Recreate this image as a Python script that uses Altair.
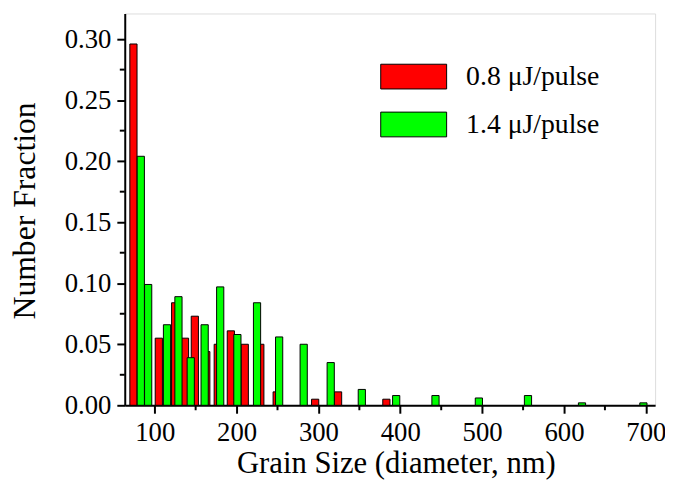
import altair as alt
import pandas as pd

# ---- data ----
series_names = ["0.8 μJ/pulse", "1.4 μJ/pulse"]
bar_colors = ["#ff0000", "#00ff00"]

red_size = [74, 105, 125, 137, 149, 163, 177, 193, 210, 229, 249, 296, 324, 383]
red_frac = [0.296, 0.055, 0.084, 0.055, 0.073, 0.044, 0.050, 0.061, 0.050, 0.050,
            0.011, 0.005, 0.011, 0.005]

green_size = [83, 92, 115, 129, 144, 161, 180, 201, 225, 252, 282, 315, 353, 395,
              443, 496, 556, 622, 697]
green_frac = [0.204, 0.099, 0.066, 0.089, 0.039, 0.066, 0.097, 0.058, 0.084, 0.056,
              0.050, 0.035, 0.013, 0.008, 0.008, 0.006, 0.008, 0.002, 0.002]

x_ticks = [100, 200, 300, 400, 500, 600, 700]
x_minor = [150, 250, 350, 450, 550, 650]
y_ticks = [0.0, 0.05, 0.10, 0.15, 0.20, 0.25, 0.30]
y_minor = [0.025, 0.075, 0.125, 0.175, 0.225, 0.275]

x_title = "Grain Size (diameter, nm)"
y_title = "Number Fraction"

# ---- layout ----
W, H = 536, 396
FONT = "Liberation Serif"
bar_half = 4.4

df = pd.concat([
    pd.DataFrame({"series": series_names[0], "size": red_size, "frac": red_frac}),
    pd.DataFrame({"series": series_names[1], "size": green_size, "frac": green_frac}),
], ignore_index=True)

xs = alt.Scale(domain=[63.4, 711.3], nice=False, zero=False)
ys = alt.Scale(domain=[0, 0.321], nice=False, zero=True)

axis_common = dict(
    domainColor="black", domainWidth=2, tickColor="black", tickWidth=2, tickSize=8,
    labelFont=FONT, labelFontSize=27, labelColor="black", grid=False,
    titleFont=FONT, titleFontWeight="normal", titleColor="black",
)

bars = alt.Chart(df).transform_calculate(
    x0=f"datum.size - {bar_half}", x1=f"datum.size + {bar_half}", zero="0"
).mark_rect(stroke="black", strokeWidth=1).encode(
    x=alt.X("x0:Q", scale=xs, title=x_title,
            axis=alt.Axis(values=x_ticks, format="d", labelPadding=7,
                          titleX=W / 2 + 6, titleY=59, titleBaseline="middle",
                          titleAlign="center", titleFontSize=31, **axis_common)),
    x2="x1:Q",
    y=alt.Y("frac:Q", scale=ys, title=y_title,
            axis=alt.Axis(values=y_ticks, format=".2f", labelPadding=6,
                          titleX=-101, titleY=H / 2 + 1, titleBaseline="middle",
                          titleAlign="center", titleAngle=-90, titleFontSize=32,
                          **axis_common)),
    y2="zero:Q",
    color=alt.Color("series:N", scale=alt.Scale(domain=series_names, range=bar_colors),
                    legend=None),
)

xminor = alt.Chart(pd.DataFrame({"v": x_minor})).mark_rule(color="black", strokeWidth=2).encode(
    x=alt.X("v:Q", scale=xs), y=alt.value(H), y2=alt.value(H + 5))
yminor = alt.Chart(pd.DataFrame({"v": y_minor})).mark_rule(color="black", strokeWidth=2).encode(
    y=alt.Y("v:Q", scale=ys), x=alt.value(0), x2=alt.value(-5))

legend_layers = []
sw_top = [51.3, 99.7]
for name, col, top in zip(series_names, bar_colors, sw_top):
    ldf = pd.DataFrame({"label": [name]})
    legend_layers.append(alt.Chart(ldf).mark_rect(color=col, stroke="black", strokeWidth=1).encode(
        x=alt.value(258.7), x2=alt.value(325.3), y=alt.value(top), y2=alt.value(top + 25)))
    legend_layers.append(alt.Chart(ldf).mark_text(
        align="left", baseline="middle", font=FONT, fontSize=28, color="black").encode(
        x=alt.value(345), y=alt.value(top + 13), text="label:N"))

chart = alt.layer(bars, xminor, yminor, *legend_layers).properties(
    width=W, height=H,
    autosize=alt.AutoSizeParams(type="none"),
    padding={"left": 118, "top": 3, "right": 10, "bottom": 76},
).configure_view(stroke=None).configure(background="white")

chart.save("out.html", embed_options={"renderer": "svg", "actions": False})
